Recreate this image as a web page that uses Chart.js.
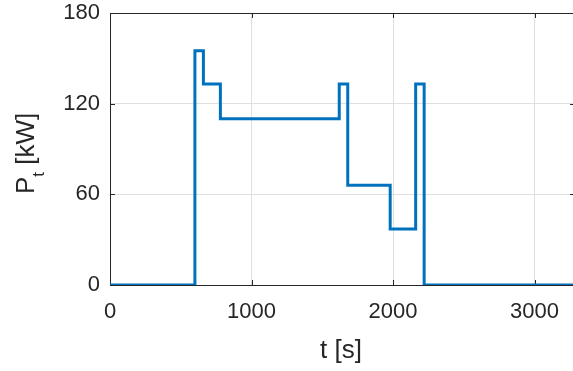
<!DOCTYPE html>
<html>
<head>
<meta charset="utf-8">
<script src="https://cdn.jsdelivr.net/npm/chart.js@4.4.1/dist/chart.umd.min.js"></script>
<style>
  html, body { margin: 0; padding: 0; background: #fff; overflow: hidden; }
  #wrap { width: 575px; height: 371px; }
</style>
</head>
<body>
<div id="wrap"><canvas id="powerChart" width="575" height="371"></canvas></div>
<script>
// time [s] where each level starts, and the level [kW]
const timeS = [0, 600, 660, 780, 1620, 1680, 1980, 2160, 2220, 3286];
const powerKW = [0, 155, 133, 110, 133, 66, 37, 133, 0, 0];
const xTicks = [0, 1000, 2000, 3000];
const yTicks = [0, 60, 120, 180];
const xMax = 3286;

const textColor = '#262626';
const fontFamily = '"Liberation Sans", Arial, Helvetica, sans-serif';

// matlab style box, inward ticks and the axis titles
const axesBox = {
    id: 'axesBox',
    beforeDatasetsDraw(chart) {
        const { ctx, chartArea: a, scales: { x, y } } = chart;
        ctx.save();
        ctx.strokeStyle = textColor;
        ctx.lineWidth = 1;
        ctx.beginPath();
        ctx.moveTo(a.left + 0.5, a.bottom + 0.5);
        ctx.lineTo(a.left + 0.5, a.top + 0.5);
        ctx.lineTo(a.right + 0.5, a.top + 0.5);
        ctx.lineTo(a.right + 0.5, a.bottom + 0.5);
        ctx.lineTo(a.left + 0.5, a.bottom + 0.5);
        xTicks.forEach(v => {
            const px = Math.round(x.getPixelForValue(v)) + 0.5;
            ctx.moveTo(px, a.bottom); ctx.lineTo(px, a.bottom - 5);
            ctx.moveTo(px, a.top); ctx.lineTo(px, a.top + 5);
        });
        yTicks.forEach(v => {
            const py = Math.round(y.getPixelForValue(v)) + 0.5;
            ctx.moveTo(a.left, py); ctx.lineTo(a.left + 5, py);
            ctx.moveTo(a.right, py); ctx.lineTo(a.right - 5, py);
        });
        ctx.stroke();
        ctx.restore();
    },
    afterDraw(chart) {
        const { ctx } = chart;
        ctx.save();
        ctx.fillStyle = textColor;
        ctx.textBaseline = 'alphabetic';

        ctx.font = '26px ' + fontFamily;
        ctx.textAlign = 'center';
        ctx.fillText('t [s]', 341, 358);

        // y title with subscript
        ctx.translate(34, 194);
        ctx.rotate(-Math.PI / 2);
        ctx.textAlign = 'left';
        let pos = 0;
        ctx.font = '26px ' + fontFamily;
        ctx.fillText('P', pos, 0);
        pos += ctx.measureText('P').width;
        ctx.font = '17px ' + fontFamily;
        ctx.fillText('t', pos, 10);
        pos += ctx.measureText('t').width;
        ctx.font = '26px ' + fontFamily;
        ctx.fillText(' [kW]', pos, 0);
        ctx.restore();
    }
};

const points = timeS.map((t, i) => ({ x: t, y: powerKW[i] }));

new Chart(document.getElementById('powerChart'), {
    type: 'line',
    data: {
        datasets: [{
            data: points,
            stepped: 'before',
            borderColor: '#0072BD',
            borderWidth: 3,
            pointRadius: 0,
            fill: false,
            borderJoinStyle: 'miter'
        }]
    },
    options: {
        responsive: false,
        animation: false,
        layout: { padding: { top: 13, left: 0, right: 0, bottom: 0 } },
        plugins: { legend: { display: false }, tooltip: { enabled: false } },
        scales: {
            x: {
                type: 'linear',
                min: 0,
                max: xMax,
                afterBuildTicks: s => { s.ticks = xTicks.map(v => ({ value: v })); },
                afterFit: s => { s.height = 86; s.paddingLeft = 0; s.paddingRight = 0; },
                border: { display: false },
                grid: { color: '#dfdfdf', drawTicks: false },
                ticks: {
                    padding: 14,
                    maxRotation: 0,
                    color: textColor,
                    font: { family: fontFamily, size: 22 },
                    callback: v => String(v)
                }
            },
            y: {
                min: 0,
                max: 180,
                afterBuildTicks: s => { s.ticks = yTicks.map(v => ({ value: v })); },
                afterFit: s => { s.width = 110; s.paddingTop = 0; s.paddingBottom = 0; },
                border: { display: false },
                grid: { color: '#dfdfdf', drawTicks: false },
                ticks: {
                    padding: 10,
                    color: textColor,
                    font: { family: fontFamily, size: 22 },
                    callback: v => String(v)
                }
            }
        }
    },
    plugins: [axesBox]
});
</script>
</body>
</html>
